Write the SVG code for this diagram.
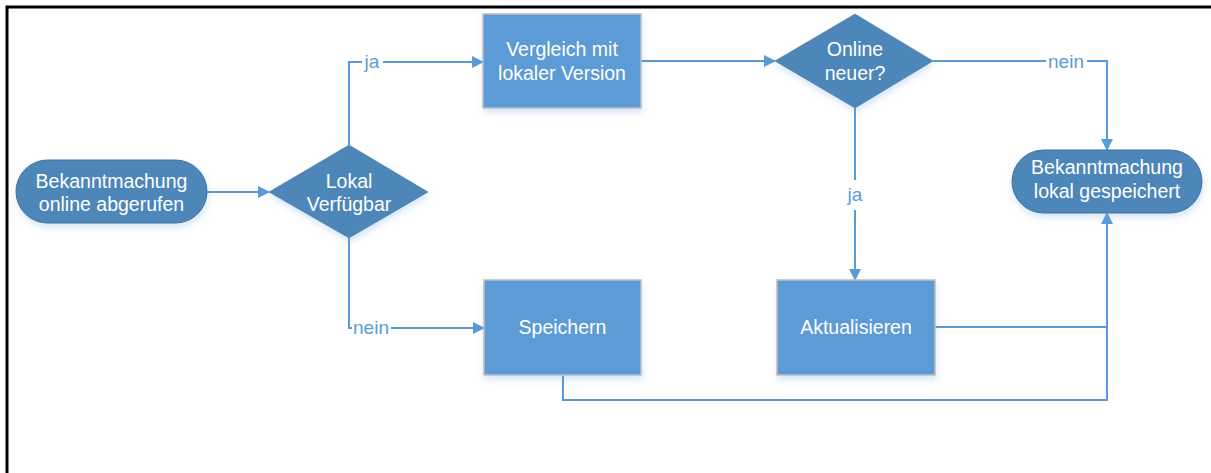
<svg xmlns="http://www.w3.org/2000/svg" width="1211" height="473" viewBox="0 0 1211 473">
<defs>
<marker id="arr" markerWidth="12" markerHeight="12" refX="11" refY="6" orient="auto" markerUnits="userSpaceOnUse">
<path d="M0,0 L12,6 L0,12 Z" fill="#5b9bd5"/>
</marker>
<filter id="sh" x="-10%" y="-10%" width="130%" height="140%">
<feDropShadow dx="1" dy="4" stdDeviation="3" flood-color="#5b9bd5" flood-opacity="0.25"/>
</filter>
</defs>
<style>
.term{fill:#4e86b9;stroke:#41719c;stroke-width:1}
.dia{fill:#4e86b9;stroke:#41719c;stroke-width:0.5}
.box{fill:#5b9bd5;stroke:#bfbfbf;stroke-width:1.5}
.t{font-family:"Liberation Sans",Arial,sans-serif;font-size:19.5px;fill:#ffffff;text-anchor:middle}
.lbl{font-family:"Liberation Sans",Arial,sans-serif;font-size:19px;fill:#5b9bd5;text-anchor:middle}
.c{fill:none;stroke:#5b9bd5;stroke-width:2}
</style>
<rect x="0" y="0" width="1211" height="473" fill="#ffffff"/>
<path d="M7,473 V7 H1211" fill="none" stroke="#000000" stroke-width="3"/>

<g id="connectors">
<path class="c" d="M207,192 H269" marker-end="url(#arr)"/>
<path class="c" d="M349,145 V62 H362"/>
<path class="c" d="M383,62 H483" marker-end="url(#arr)"/>
<path class="c" d="M349,238 V328 H352"/>
<path class="c" d="M391,328 H484" marker-end="url(#arr)"/>
<path class="c" d="M641,61 H775" marker-end="url(#arr)"/>
<path class="c" d="M933,61 H1046"/>
<path class="c" d="M1087,61 H1107 V150" marker-end="url(#arr)"/>
<path class="c" d="M855,108 V180"/>
<path class="c" d="M855,210 V280" marker-end="url(#arr)"/>
<path class="c" d="M935,327 H1107"/>
<path class="c" d="M563,375 V400 H1107 V213" marker-end="url(#arr)"/>
<text class="lbl" x="372" y="68">ja</text>
<text class="lbl" x="371" y="334">nein</text>
<text class="lbl" x="1066" y="68">nein</text>
<text class="lbl" x="855" y="201">ja</text>
</g>

<g id="start">
<rect class="term" x="16" y="160" width="191" height="63" rx="31.5" filter="url(#sh)"/>
<text class="t" x="111.5" y="188">Bekanntmachung</text>
<text class="t" x="111.5" y="211">online abgerufen</text>
</g>

<g id="lokal">
<polygon class="dia" points="349,145 428,192 349,238 269,192" filter="url(#sh)"/>
<text class="t" x="349" y="188">Lokal</text>
<text class="t" x="349" y="211">Verfügbar</text>
</g>

<g id="vergleich">
<rect class="box" x="483" y="14" width="158" height="94" filter="url(#sh)"/>
<text class="t" x="562" y="56">Vergleich mit</text>
<text class="t" x="562" y="80">lokaler Version</text>
</g>

<g id="online">
<polygon class="dia" points="855,14 933,61 855,108 775,61" filter="url(#sh)"/>
<text class="t" x="855" y="56">Online</text>
<text class="t" x="855" y="80">neuer?</text>
</g>

<g id="speichern">
<rect class="box" x="484" y="280" width="157" height="95" filter="url(#sh)"/>
<text class="t" x="562.5" y="334">Speichern</text>
</g>

<g id="aktualisieren">
<rect class="box" x="777" y="280" width="158" height="95" filter="url(#sh)"/>
<text class="t" x="856" y="334">Aktualisieren</text>
</g>

<g id="end">
<rect class="term" x="1012" y="150" width="190" height="63" rx="31.5" filter="url(#sh)"/>
<text class="t" x="1107" y="174">Bekanntmachung</text>
<text class="t" x="1107" y="198">lokal gespeichert</text>
</g>
</svg>
